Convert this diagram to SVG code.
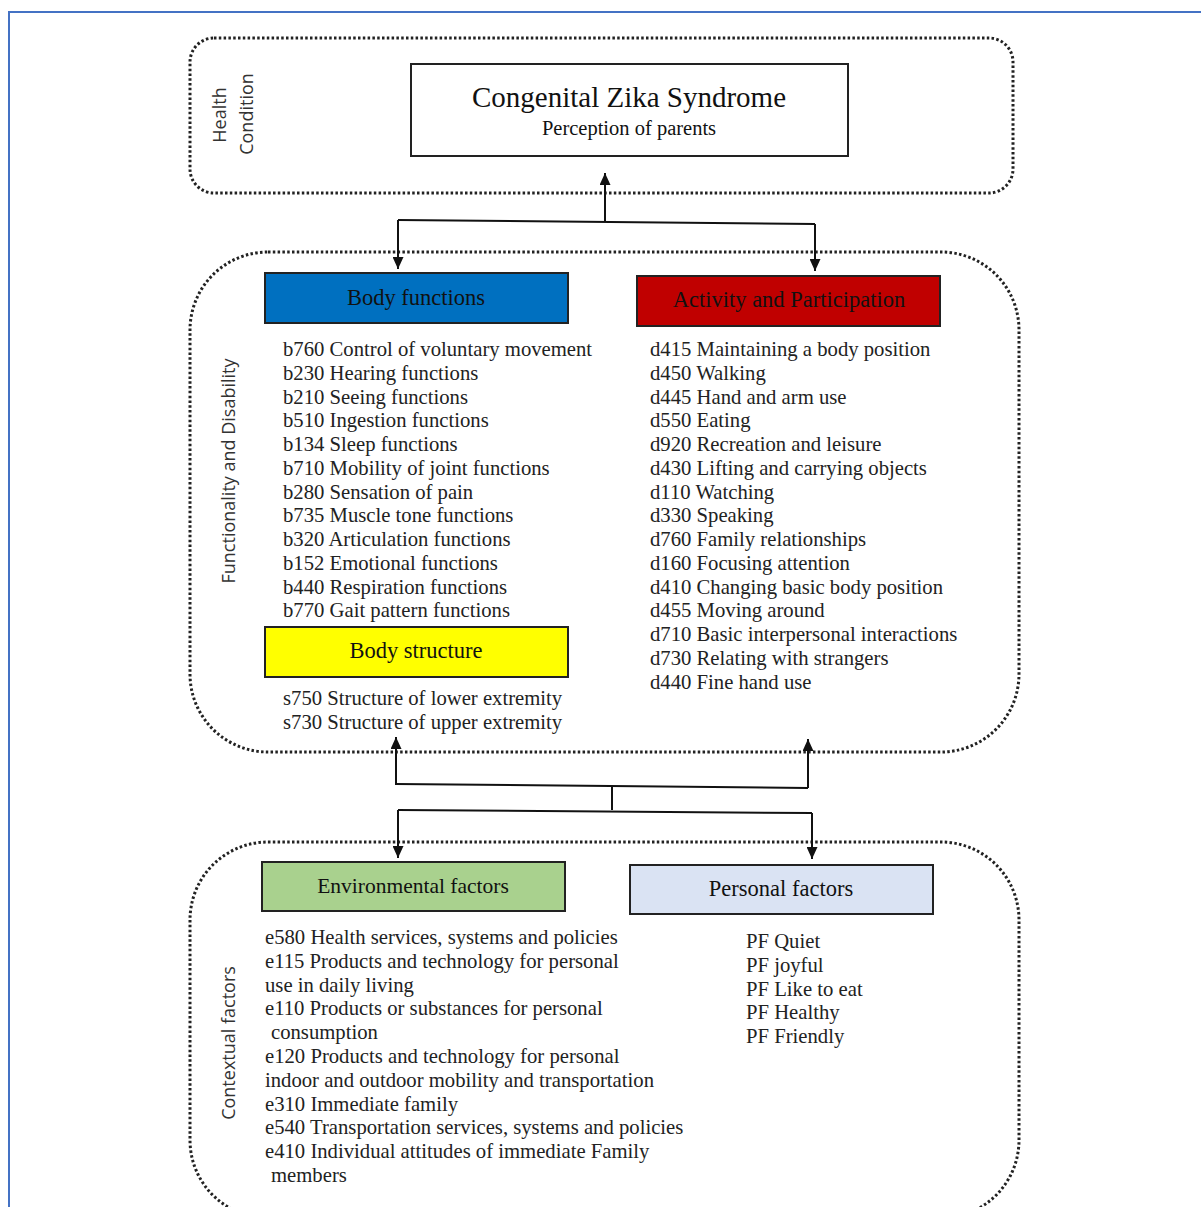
<svg xmlns="http://www.w3.org/2000/svg" width="1201" height="1207" viewBox="0 0 1201 1207">
<defs>
<style>
.frame{fill:none;stroke:#4472C4;stroke-width:2}
.dot{fill:none;stroke:#222;stroke-width:3;stroke-dasharray:2.5 2.3}
.box{stroke:#222;stroke-width:2}
.lbl{font-family:"Liberation Serif","Times New Roman",serif;font-size:22.5px;fill:#111;text-anchor:middle}
.lst{font-family:"Liberation Serif","Times New Roman",serif;font-size:20.7px;fill:#222}
.side{font-family:"Open Sans","DejaVu Sans",sans-serif;font-size:18px;fill:#333;text-anchor:middle}
.con{fill:none;stroke:#111;stroke-width:2}
</style>
<marker id="ah" viewBox="0 0 12 11" refX="12" refY="5.5" markerWidth="12" markerHeight="11" markerUnits="userSpaceOnUse" orient="auto">
<path d="M0,0 L12,5.5 L0,11 z" fill="#111"/>
</marker>
</defs>
<rect width="1201" height="1207" fill="#fff"/>
<path class="frame" d="M9,1207 L9,12 L1201,12"/>

<g id="health-condition">
<rect class="dot" x="190" y="38" width="823" height="155" rx="24"/>
<text class="side" transform="translate(226,115) rotate(-90)">Health</text>
<text class="side" transform="translate(253,114) rotate(-90)">Condition</text>
</g>
<g id="czs">
<rect class="box" x="411" y="64" width="437" height="92" fill="#fff"/>
<text class="lbl" x="629" y="107" style="font-size:29px">Congenital Zika Syndrome</text>
<text class="lbl" x="629" y="135" style="font-size:20.5px">Perception of parents</text>
</g>

<g id="functionality">
<rect class="dot" x="190" y="252" width="829" height="500" rx="78"/>
<text class="side" transform="translate(235,471) rotate(-90)">Functionality and Disability</text>
</g>
<g id="body-functions">
<rect class="box" x="265" y="273" width="303" height="50" fill="#0070C0"/>
<text class="lbl" x="416" y="305">Body functions</text>
<text class="lst" x="283" y="356">b760 Control of voluntary movement</text>
<text class="lst" x="283" y="379.75">b230 Hearing functions</text>
<text class="lst" x="283" y="403.5">b210 Seeing functions</text>
<text class="lst" x="283" y="427.25">b510 Ingestion functions</text>
<text class="lst" x="283" y="451">b134 Sleep functions</text>
<text class="lst" x="283" y="474.75">b710 Mobility of joint functions</text>
<text class="lst" x="283" y="498.5">b280 Sensation of pain</text>
<text class="lst" x="283" y="522.25">b735 Muscle tone functions</text>
<text class="lst" x="283" y="546">b320 Articulation functions</text>
<text class="lst" x="283" y="569.75">b152 Emotional functions</text>
<text class="lst" x="283" y="593.5">b440 Respiration functions</text>
<text class="lst" x="283" y="617.25">b770 Gait pattern functions</text>
</g>
<g id="body-structure">
<rect class="box" x="265" y="627" width="303" height="50" fill="#FFFF00"/>
<text class="lbl" x="416" y="658">Body structure</text>
<text class="lst" x="283" y="705">s750 Structure of lower extremity</text>
<text class="lst" x="283" y="729">s730 Structure of upper extremity</text>
</g>
<g id="activity">
<rect class="box" x="637" y="276" width="303" height="50" fill="#C00000"/>
<text class="lbl" x="789" y="307">Activity and Participation</text>
<text class="lst" x="650" y="356">d415 Maintaining a body position</text>
<text class="lst" x="650" y="379.75">d450 Walking</text>
<text class="lst" x="650" y="403.5">d445 Hand and arm use</text>
<text class="lst" x="650" y="427.25">d550 Eating</text>
<text class="lst" x="650" y="451">d920 Recreation and leisure</text>
<text class="lst" x="650" y="474.75">d430 Lifting and carrying objects</text>
<text class="lst" x="650" y="498.5">d110 Watching</text>
<text class="lst" x="650" y="522.25">d330 Speaking</text>
<text class="lst" x="650" y="546">d760 Family relationships</text>
<text class="lst" x="650" y="569.75">d160 Focusing attention</text>
<text class="lst" x="650" y="593.5">d410 Changing basic body position</text>
<text class="lst" x="650" y="617.25">d455 Moving around</text>
<text class="lst" x="650" y="641">d710 Basic interpersonal interactions</text>
<text class="lst" x="650" y="664.75">d730 Relating with strangers</text>
<text class="lst" x="650" y="688.5">d440 Fine hand use</text>
</g>

<g id="contextual">
<rect class="dot" x="190" y="842" width="829" height="376" rx="78"/>
<text class="side" transform="translate(235,1043) rotate(-90)">Contextual factors</text>
</g>
<g id="environmental">
<rect class="box" x="262" y="862" width="303" height="49" fill="#A9D18E"/>
<text class="lbl" x="413" y="893" style="font-size:21.5px">Environmental factors</text>
<text class="lst" x="265" y="944">e580 Health services, systems and policies</text>
<text class="lst" x="265" y="967.8">e115 Products and technology for personal</text>
<text class="lst" x="265" y="991.6">use in daily living</text>
<text class="lst" x="265" y="1015.4">e110 Products or substances for personal</text>
<text class="lst" x="271" y="1039.2">consumption</text>
<text class="lst" x="265" y="1063">e120 Products and technology for personal</text>
<text class="lst" x="265" y="1086.8">indoor and outdoor mobility and transportation</text>
<text class="lst" x="265" y="1110.6">e310 Immediate family</text>
<text class="lst" x="265" y="1134.4">e540 Transportation services, systems and policies</text>
<text class="lst" x="265" y="1158.2">e410 Individual attitudes of immediate Family</text>
<text class="lst" x="271" y="1182">members</text>
</g>
<g id="personal">
<rect class="box" x="630" y="865" width="303" height="49" fill="#DAE3F3"/>
<text class="lbl" x="781" y="896">Personal factors</text>
<text class="lst" x="746" y="948">PF Quiet</text>
<text class="lst" x="746" y="972">PF joyful</text>
<text class="lst" x="746" y="996">PF Like to eat</text>
<text class="lst" x="746" y="1019">PF Healthy</text>
<text class="lst" x="746" y="1043">PF Friendly</text>
</g>

<g id="connectors">
<path class="con" d="M605,221 L605,173" marker-end="url(#ah)"/>
<path class="con" d="M398,220 L815,224"/>
<path class="con" d="M398,220 L398,269" marker-end="url(#ah)"/>
<path class="con" d="M815,224 L815,271" marker-end="url(#ah)"/>
<path class="con" d="M396,785 L396,737" marker-end="url(#ah)"/>
<path class="con" d="M808,788 L808,739" marker-end="url(#ah)"/>
<path class="con" d="M396,784 L808,788"/>
<path class="con" d="M612,786 L612,810"/>
<path class="con" d="M398,810 L812,813"/>
<path class="con" d="M398,810 L398,858" marker-end="url(#ah)"/>
<path class="con" d="M812,813 L812,859" marker-end="url(#ah)"/>
</g>
</svg>
